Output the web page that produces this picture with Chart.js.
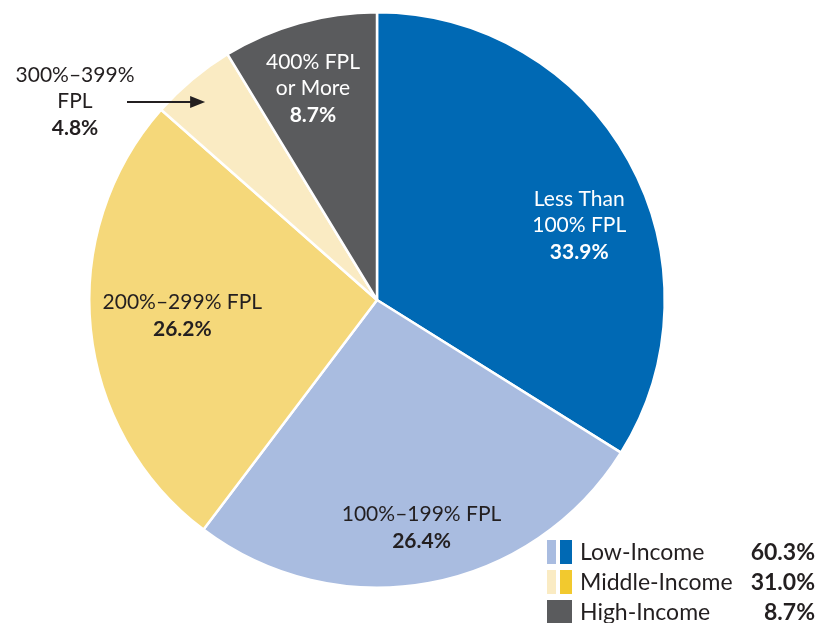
<!DOCTYPE html>
<html><head><meta charset="utf-8">
<script src="https://cdn.jsdelivr.net/npm/chart.js@4"></script>
<style>html,body{margin:0;padding:0;background:#fff}#wrap{width:830px;height:623px;position:relative}</style>
</head><body><div id="wrap"><canvas id="c" width="830" height="623"></canvas></div>
<script>
const categories = ["Less Than 100% FPL", "100%–199% FPL", "200%–299% FPL", "300%–399% FPL", "400% FPL or More"];
const labelLines = [["Less Than", "100% FPL"], ["100%–199% FPL"], ["200%–299% FPL"], ["300%–399%", "FPL"], ["400% FPL", "or More"]];
const shares = [33.9, 26.4, 26.2, 4.8, 8.7];
const groupNames = ["Low-Income", "Middle-Income", "High-Income"];
const groupShares = [60.3, 31.0, 8.7];

const colors = ["#0069b4", "#a9bce0", "#f5d87a", "#faebc3", "#5a5b5d"];
const textColors = ["#fff", "#231f20", "#231f20", "#231f20", "#fff"];
const legendSwatches = [["#a9bce0", "#0069b4"], ["#faebc3", "#f2c92e"], ["#5a5b5d", "#5a5b5d"]];
const FONT = "Lato, 'Open Sans', sans-serif";

const labelPlugin = {
  id: 'labels',
  afterDraw(chart) {
    const ctx = chart.ctx;
    const meta = chart.getDatasetMeta(0);
    const place = [
      {r: 0.72, dx: 21, dy: 25},
      {r: 0.72, dx: 7, dy: 23},
      {r: 0.68, dx: 0, dy: -5},
      {r: 0.93, dx: 0, dy: 0, outside: true},
      {r: 0.76, dx: -5, dy: -1}
    ];
    ctx.save();
    ctx.textAlign = 'center';
    ctx.textBaseline = 'alphabetic';
    meta.data.forEach((arc, i) => {
      const p = arc.getProps(['x','y','startAngle','endAngle','outerRadius'], true);
      const mid = (p.startAngle + p.endAngle) / 2;
      let cx = p.x + Math.cos(mid) * p.outerRadius * place[i].r + place[i].dx;
      let cy = p.y + Math.sin(mid) * p.outerRadius * place[i].r + place[i].dy;
      let lines = labelLines[i].slice();
      const val = shares[i].toFixed(1) + '%';
      const lh = 26;
      const total = lines.length + 1;
      if (place[i].outside) {
        const tx = chart.chartArea.left - 13;
        const ty = p.y - 200;
        ctx.fillStyle = '#231f20';
        ctx.font = '21px ' + FONT;
        ctx.fillText(lines[0], tx, ty - 18);
        ctx.fillText(lines[1], tx, ty + 8);
        ctx.font = 'bold 21px ' + FONT;
        ctx.fillText(val, tx, ty + 35);
        const ax0 = tx + 52, ax1 = cx;
        const ay2 = ty + 2;
        ctx.strokeStyle = '#231f20';
        ctx.lineWidth = 2;
        ctx.beginPath(); ctx.moveTo(ax0, ay2); ctx.lineTo(ax1 - 10, ay2); ctx.stroke();
        ctx.beginPath(); ctx.moveTo(ax1, ay2); ctx.lineTo(ax1 - 15, ay2 - 6); ctx.lineTo(ax1 - 15, ay2 + 6); ctx.closePath(); ctx.fill();
        return;
      }
      ctx.fillStyle = textColors[i];
      let y0 = cy - (total - 1) * lh / 2 + 7;
      ctx.font = '21px ' + FONT;
      lines.forEach((ln, k) => ctx.fillText(ln, cx, y0 + k * lh));
      ctx.font = 'bold 21px ' + FONT;
      ctx.fillText(val, cx, y0 + lines.length * lh + 1);
    });
    const lx = chart.width - 283, ly0 = chart.height - 83;
    groupNames.forEach((g, k) => {
      const y = ly0 + k * 30;
      ctx.fillStyle = legendSwatches[k][0];
      ctx.fillRect(lx, y, 9, 24);
      ctx.fillStyle = legendSwatches[k][1];
      ctx.fillRect(lx + 13, y, 12, 24);
      if (k === 2) { ctx.fillStyle = legendSwatches[k][0]; ctx.fillRect(lx, y, 25, 24); }
      ctx.fillStyle = '#231f20';
      ctx.textAlign = 'left';
      ctx.font = '23px ' + FONT;
      ctx.fillText(g, lx + 33, y + 20);
      ctx.textAlign = 'right';
      ctx.font = 'bold 23px ' + FONT;
      ctx.fillText(groupShares[k].toFixed(1) + '%', chart.width - 15, y + 20);
    });
    ctx.restore();
  }
};

new Chart(document.getElementById('c'), {
  type: 'pie',
  data: {
    labels: categories,
    datasets: [{
      data: shares,
      backgroundColor: colors,
      borderColor: '#ffffff',
      borderWidth: 2.5
    }]
  },
  options: {
    responsive: false,
    animation: false,
    layout: {padding: {top: 11, bottom: 34, left: 88, right: 164}},
    plugins: {legend: {display: false}, tooltip: {enabled: false}}
  },
  plugins: [labelPlugin]
});
</script></body></html>
